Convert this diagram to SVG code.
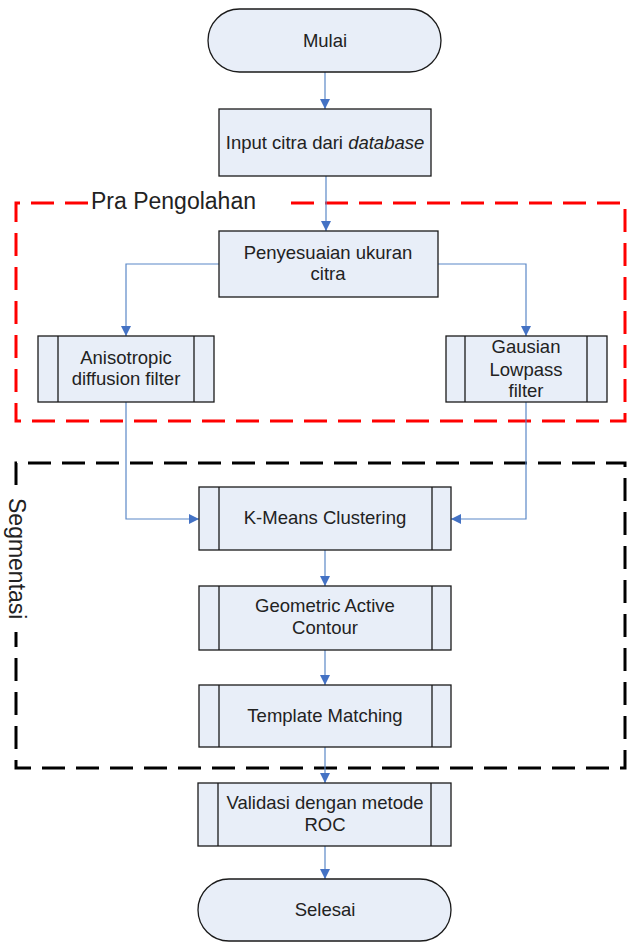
<svg xmlns="http://www.w3.org/2000/svg" width="627" height="942" viewBox="0 0 627 942">
<defs>
<style>
.box{fill:#e8eef8;stroke:#1a1a1a;stroke-width:1.3}
.inner{stroke:#1a1a1a;stroke-width:1.3;fill:none}
.t{font-family:"Liberation Sans",Arial,sans-serif;font-size:18.5px;fill:#222;text-anchor:middle}
.lbl{font-family:"Liberation Sans",Arial,sans-serif;font-size:23px;fill:#222}
.conn{fill:none;stroke:#5b88c7;stroke-width:1.2}
.red{fill:none;stroke:#ff0000;stroke-width:3;stroke-dasharray:23 11}
.blk{fill:none;stroke:#000;stroke-width:3;stroke-dasharray:23 11}
</style>
<marker id="ah" viewBox="0 0 10 10" refX="10" refY="5" markerWidth="10" markerHeight="10" markerUnits="userSpaceOnUse" orient="auto">
<path d="M0,0 L10,5 L0,10 Z" fill="#4472c4"/>
</marker>
</defs>
<rect width="627" height="942" fill="#fff"/>

<g id="group-pra">
<path class="red" d="M88,203 H16 V421 H625 V203 H286"/>
<text class="lbl" x="91" y="209">Pra Pengolahan</text>
</g>
<g id="group-segmentasi">
<path class="blk" d="M16,485 V463 H625 V768 H16 V632"/>
<text class="lbl" transform="translate(9,498) rotate(90)" x="0" y="0">Segmentasi</text>
</g>

<g id="connectors">
<path class="conn" d="M325,72 V109" marker-end="url(#ah)"/>
<path class="conn" d="M326,176 V231" marker-end="url(#ah)"/>
<path class="conn" d="M219,264 H126 V336" marker-end="url(#ah)"/>
<path class="conn" d="M438,264 H526 V336" marker-end="url(#ah)"/>
<path class="conn" d="M126,402 V519 H199" marker-end="url(#ah)"/>
<path class="conn" d="M526,402 V519 H451" marker-end="url(#ah)"/>
<path class="conn" d="M325,550 V586" marker-end="url(#ah)"/>
<path class="conn" d="M325,650 V685" marker-end="url(#ah)"/>
<path class="conn" d="M325,747 V783" marker-end="url(#ah)"/>
<path class="conn" d="M325,846 V879" marker-end="url(#ah)"/>
</g>

<g id="mulai">
<rect class="box" x="208" y="9" width="233" height="63" rx="31.5"/>
<text class="t" x="325" y="47">Mulai</text>
</g>
<g id="input">
<rect class="box" x="219" y="109" width="212" height="67"/>
<text class="t" x="325" y="149">Input citra dari <tspan font-style="italic">database</tspan></text>
</g>
<g id="penyesuaian">
<rect class="box" x="219" y="231" width="219" height="66"/>
<text class="t" x="328" y="259">Penyesuaian ukuran</text>
<text class="t" x="328" y="280">citra</text>
</g>
<g id="anisotropic">
<rect class="box" x="38" y="336" width="176" height="66"/>
<path class="inner" d="M58,336 V402 M194,336 V402"/>
<text class="t" x="126" y="364">Anisotropic</text>
<text class="t" x="126" y="385">diffusion filter</text>
</g>
<g id="gausian">
<rect class="box" x="446" y="336" width="161" height="66"/>
<path class="inner" d="M465,336 V402 M587,336 V402"/>
<text class="t" x="526" y="353">Gausian</text>
<text class="t" x="526" y="376">Lowpass</text>
<text class="t" x="526" y="397">filter</text>
</g>
<g id="kmeans">
<rect class="box" x="199" y="487" width="252" height="63"/>
<path class="inner" d="M219,487 V550 M432,487 V550"/>
<text class="t" x="325" y="524">K-Means Clustering</text>
</g>
<g id="geometric">
<rect class="box" x="199" y="586" width="252" height="64"/>
<path class="inner" d="M219,586 V650 M432,586 V650"/>
<text class="t" x="325" y="612">Geometric Active</text>
<text class="t" x="325" y="634">Contour</text>
</g>
<g id="template">
<rect class="box" x="199" y="685" width="252" height="62"/>
<path class="inner" d="M219,685 V747 M432,685 V747"/>
<text class="t" x="325" y="722">Template Matching</text>
</g>
<g id="validasi">
<rect class="box" x="198" y="783" width="253" height="63"/>
<path class="inner" d="M218,783 V846 M431,783 V846"/>
<text class="t" x="325" y="809">Validasi dengan metode</text>
<text class="t" x="325" y="831">ROC</text>
</g>
<g id="selesai">
<rect class="box" x="198" y="879" width="253" height="62" rx="31"/>
<text class="t" x="325" y="916">Selesai</text>
</g>
</svg>
